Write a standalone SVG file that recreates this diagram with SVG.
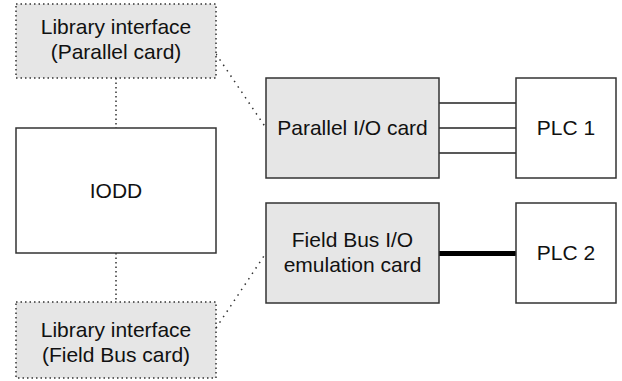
<svg xmlns="http://www.w3.org/2000/svg" width="622" height="381" viewBox="0 0 622 381">
<style>
.box{fill:#ffffff;stroke:#333333;stroke-width:1.5}
.card{fill:#e6e6e6;stroke:#333333;stroke-width:1.5}
.lib{fill:#e6e6e6;stroke:#333333;stroke-width:1.5;stroke-dasharray:1.5 3}
.dot{fill:none;stroke:#333333;stroke-width:1.5;stroke-dasharray:1.5 3}
.diag{fill:none;stroke:#333333;stroke-width:1.5;stroke-dasharray:1.5 5}
.wire{fill:none;stroke:#222222;stroke-width:1.5}
.bus{fill:none;stroke:#000000;stroke-width:5;stroke-linecap:round}
text{font-family:"Liberation Sans",Arial,sans-serif;font-size:21px;fill:#111111;text-anchor:middle}
</style>
<rect width="622" height="381" fill="#ffffff"/>
<g id="connectors">
<line class="dot" x1="116" y1="78" x2="116" y2="128"/>
<line class="dot" x1="116" y1="253" x2="116" y2="302"/>
<line class="diag" x1="216" y1="54" x2="266" y2="128"/>
<line class="diag" x1="216" y1="328" x2="266" y2="253"/>
<line class="wire" x1="439" y1="103" x2="516" y2="103"/>
<line class="wire" x1="439" y1="128" x2="516" y2="128"/>
<line class="wire" x1="439" y1="153" x2="516" y2="153"/>
<line class="bus" x1="439" y1="253.5" x2="515" y2="253.5"/>
</g>
<g id="lib-parallel">
<rect class="lib" x="16" y="4" width="200" height="74"/>
<text x="116" y="34">Library interface</text>
<text x="116" y="59">(Parallel card)</text>
</g>
<g id="iodd">
<rect class="box" x="16" y="128" width="200" height="125"/>
<text x="116" y="198">IODD</text>
</g>
<g id="lib-fieldbus">
<rect class="lib" x="16" y="302" width="200" height="76"/>
<text x="116" y="337">Library interface</text>
<text x="116" y="362">(Field Bus card)</text>
</g>
<g id="parallel-card">
<rect class="card" x="266" y="78" width="173" height="100"/>
<text x="352.5" y="135">Parallel I/O card</text>
</g>
<g id="fieldbus-card">
<rect class="card" x="266" y="203" width="173" height="100"/>
<text x="352.5" y="247">Field Bus I/O</text>
<text x="352.5" y="272">emulation card</text>
</g>
<g id="plc1">
<rect class="box" x="516" y="78" width="100" height="100"/>
<text x="566" y="135">PLC 1</text>
</g>
<g id="plc2">
<rect class="box" x="516" y="203" width="100" height="100"/>
<text x="566" y="260">PLC 2</text>
</g>
</svg>
